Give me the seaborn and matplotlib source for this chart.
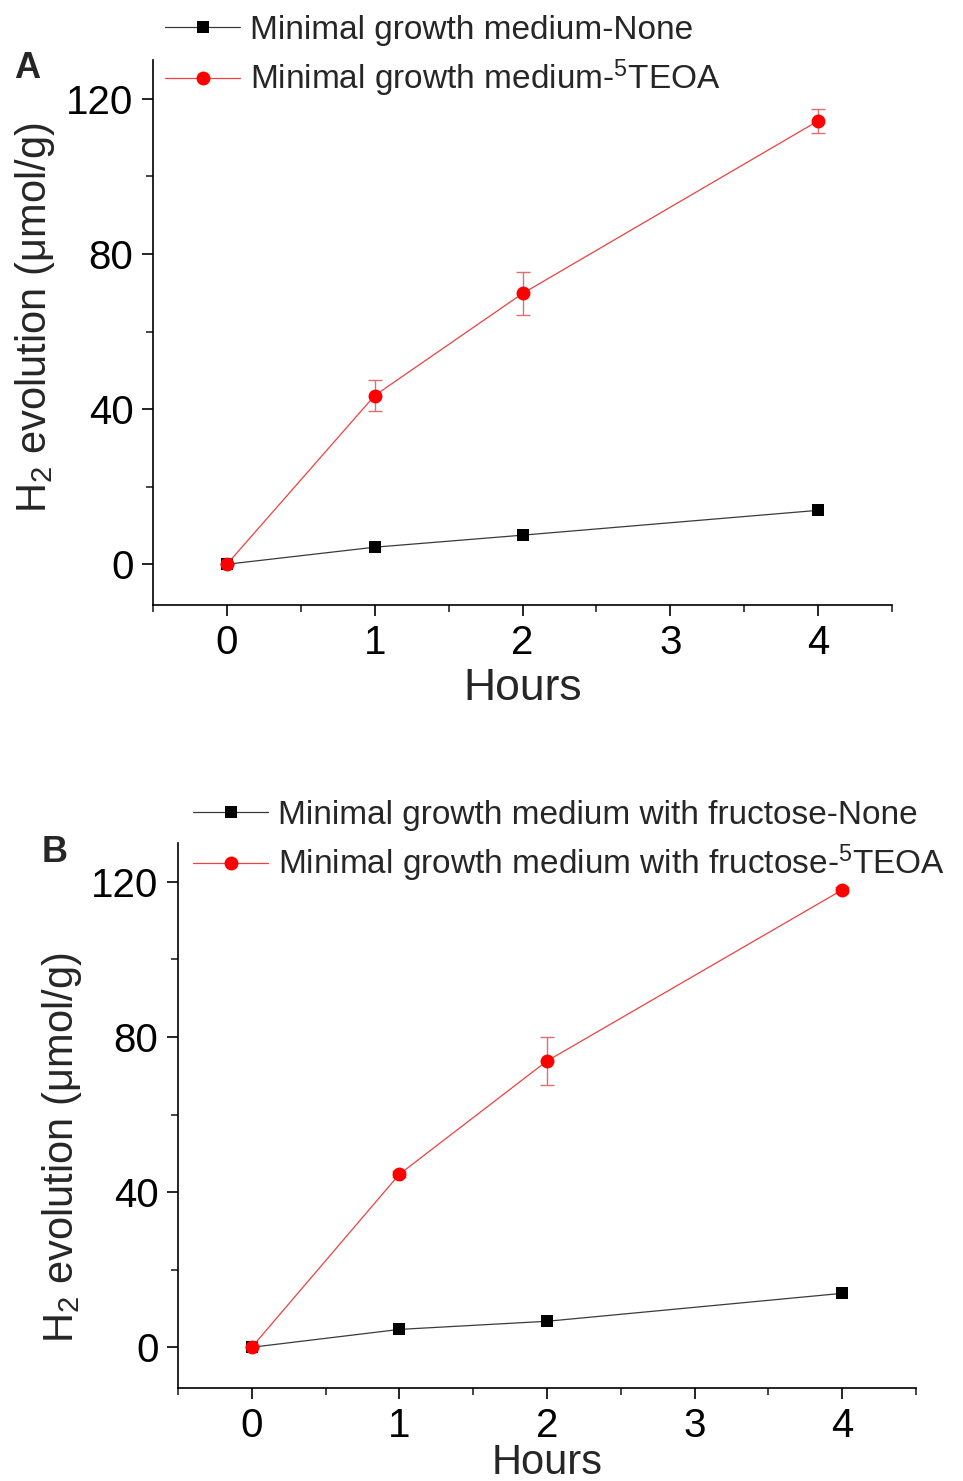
import pandas as pd
import seaborn as sns
import matplotlib.pyplot as plt
from matplotlib.ticker import MultipleLocator

# data
hours = [0, 1, 2, 4]
a_none = [0, 4.4, 7.5, 13.9]
a_teoa = [0, 43.5, 69.8, 114.3]
a_teoa_err = [0, 3.9, 5.5, 3.0]
b_none = [0, 4.6, 6.7, 13.9]
b_teoa = [0, 44.6, 73.8, 117.9]
b_teoa_err = [0, 0.8, 6.3, 0.8]

a_labels = ["Minimal growth medium-None", "Minimal growth medium-$^{5}$TEOA"]
b_labels = ["Minimal growth medium with fructose-None",
            "Minimal growth medium with fructose-$^{5}$TEOA"]

sns.set_theme(style="ticks")
plt.rcParams["font.family"] = ["Liberation Sans", "DejaVu Sans"]
plt.rcParams["mathtext.fontset"] = "custom"
plt.rcParams["mathtext.rm"] = "Liberation Sans"
plt.rcParams["mathtext.it"] = "Liberation Sans:italic"
plt.rcParams["mathtext.bf"] = "Liberation Sans:bold"

fig = plt.figure(figsize=(9.63, 14.81), dpi=100)
ax_a = fig.add_axes([0.1589, 0.5915, 0.7674, 0.368])
ax_b = fig.add_axes([0.1848, 0.0628, 0.7664, 0.368])


def draw_panel(ax, none, teoa, err, labels, leg_xy, letter, letter_xy, ylab_xy,
               xlab_size, xlab_pad):
    df_none = pd.DataFrame({"Hours": hours, "H2": none})
    df_teoa = pd.DataFrame({"Hours": hours, "H2": teoa})
    ax.errorbar(hours, teoa, yerr=err, fmt="none", ecolor="#e07070",
                elinewidth=1.0, capsize=5, capthick=1.0, zorder=1)
    sns.lineplot(data=df_none, x="Hours", y="H2", ax=ax, color="#3a3a3a",
                 linewidth=0.9, marker="s", markersize=8, markeredgewidth=0,
                 markerfacecolor="black", label=labels[0], zorder=2)
    sns.lineplot(data=df_teoa, x="Hours", y="H2", ax=ax, color="#f04040",
                 linewidth=0.9, marker="o", markersize=10, markeredgewidth=0,
                 markerfacecolor="#ff0000", label=labels[1], zorder=3)

    ax.set_xlim(-0.5, 4.5)
    ax.set_ylim(-10.5, 130)
    ax.xaxis.set_major_locator(MultipleLocator(1))
    ax.xaxis.set_minor_locator(MultipleLocator(0.5))
    ax.yaxis.set_major_locator(MultipleLocator(40))
    ax.yaxis.set_minor_locator(MultipleLocator(20))
    ax.tick_params(which="major", direction="out", length=8, width=1.2,
                   labelsize=29, colors="black", pad=6)
    ax.tick_params(which="minor", direction="out", length=5, width=1.2)
    for s in ["top", "right"]:
        ax.spines[s].set_visible(False)
    for s in ["left", "bottom"]:
        ax.spines[s].set_linewidth(1.2)
        ax.spines[s].set_color("black")

    ax.set_xlabel("Hours", fontsize=xlab_size, labelpad=xlab_pad)
    ax.set_ylabel("H$_2$ evolution (\u03bcmol/g)", fontsize=30)
    ax.yaxis.set_label_coords(ylab_xy[0], ylab_xy[1], transform=fig.transFigure)

    h, l = ax.get_legend_handles_labels()
    ax.legend(h, l, loc="upper left", bbox_to_anchor=leg_xy,
              bbox_transform=fig.transFigure, frameon=False, fontsize=24,
              handlelength=2.25, handletextpad=0.3, labelspacing=0.35,
              borderpad=0, borderaxespad=0)
    fig.text(letter_xy[0], letter_xy[1], letter, fontsize=26,
             fontweight="bold", ha="left", va="center")


draw_panel(ax_a, a_none, a_teoa, a_teoa_err, a_labels,
           (165 / 963, 1 - 15 / 1481), "A", (14 / 963, 1 - 68 / 1481),
           (57 / 963, 1 - 318 / 1481), 32, 4)
draw_panel(ax_b, b_none, b_teoa, b_teoa_err, b_labels,
           (193 / 963, 1 - 800 / 1481), "B", (42 / 963, 1 - 853 / 1481),
           (84 / 963, 1 - 1148 / 1481), 30, -2)

fig.savefig("out.png", dpi=100)
